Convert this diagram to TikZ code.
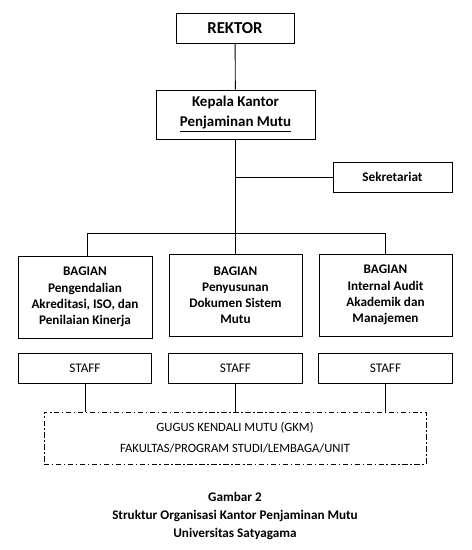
\documentclass[tikz,border=0pt]{standalone}
\usepackage{fontspec}
\setmainfont{Carlito}
\usetikzlibrary{calc}

\begin{document}
\begin{tikzpicture}[x=0.02cm,y=-0.02cm, line width=0.5pt]
			\tikzset{kotak/.style={draw, inner sep=0pt, align=center, font=\fontsize{7.5}{9.2}\selectfont\bfseries},
				staf/.style={draw, inner sep=0pt, minimum width=2.67cm, minimum height=0.6cm, font=\fontsize{7.5}{9}\selectfont}}
			\useasboundingbox (0,0) rectangle (471,550);

			\node[kotak, minimum width=2.36cm, minimum height=0.6cm, font=\fontsize{9.5}{12}\selectfont\bfseries] (rektor) at (235,28) {REKTOR};
			\node[kotak, minimum width=3.18cm, minimum height=0.98cm, font=\fontsize{8.5}{11.5}\selectfont\bfseries] (kepala) at (235.5,114.5) {Kepala Kantor\\\underline{Penjaminan Mutu}};
			\node[kotak, minimum width=2.38cm, minimum height=0.6cm] (sekretariat) at (392.5,177) {Sekretariat};

			\coordinate (sek) at (235.5,177);
			\coordinate (cabang) at (235.5,233);
			\coordinate (kiri) at (87,233);
			\coordinate (kanan) at (385.5,233);

			\node[kotak, minimum width=2.68cm, minimum height=1.64cm] (bag1) at (85,297) {BAGIAN\\Pengendalian\\Akreditasi, ISO, dan\\Penilaian Kinerja};
			\node[kotak, minimum width=2.66cm, minimum height=1.64cm] (bag2) at (235.5,295) {BAGIAN\\Penyusunan\\Dokumen Sistem\\Mutu};
			\node[kotak, minimum width=2.66cm, minimum height=1.64cm] (bag3) at (385.5,295) {BAGIAN\\Internal Audit\\Akademik dan\\Manajemen};

			\node[staf] (staff1) at (85,368) {STAFF};
			\node[staf] (staff2) at (235.5,368) {STAFF};
			\node[staf] (staff3) at (385.5,368) {STAFF};

			%kotak GKM garis putus-putus
			\node[draw, dash pattern=on 3pt off 1.5pt on 0.8pt off 1.5pt, minimum width=7.64cm, minimum height=1.04cm, align=center, font=\fontsize{7.2}{12}\selectfont] (gkm) at (235,438) {GUGUS KENDALI MUTU (GKM)\\FAKULTAS/PROGRAM STUDI/LEMBAGA/UNIT};

			\node[align=center, font=\fontsize{7.5}{10.2}\selectfont\bfseries] (judul) at (235,516) {Gambar 2\\Struktur Organisasi Kantor Penjaminan Mutu\\Universitas Satyagama};

			\draw (rektor) -- (kepala);
			\draw (kepala) -- (cabang);
			\draw (sek) -- (sekretariat);
			\draw (kiri) -- (kanan);
			\draw (kiri) -- (kiri |- bag1.north);
			\draw (cabang) -- (bag2);
			\draw (kanan) -- (bag3);

			\draw (staff1) -- (staff1 |- gkm.north);
			\draw (staff2) -- (staff2 |- gkm.north);
			\draw (staff3) -- (staff3 |- gkm.north);
		\end{tikzpicture}
\end{document}
